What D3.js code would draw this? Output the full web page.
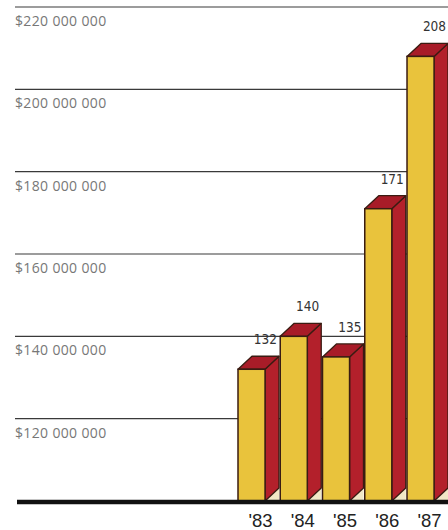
<!DOCTYPE html>
<html><head><meta charset="utf-8">
<script src="https://cdn.jsdelivr.net/npm/d3@7"></script>
<style>html,body{margin:0;padding:0;background:#fff;}</style>
</head><body>
<svg id="c" width="448" height="530"></svg>
<script>
const years = ["'83", "'84", "'85", "'86", "'87"];
const values = [132, 140, 135, 171, 208];           // millions of dollars
const valueLabels = ["132", "140", "135", "171", "208"];
const ticks = [120, 140, 160, 180, 200, 220];
const tickLabels = ["$120 000 000", "$140 000 000", "$160 000 000", "$180 000 000", "$200 000 000", "$220 000 000"];

const svg = d3.select("#c");
const y = d3.scaleLinear().domain([100, 220]).range([501, 7]);
const x = d3.scaleBand().domain(years).range([238, 448]).paddingInner(0.03).paddingOuter(0);
const bw = x.bandwidth();
const fw = bw * 0.66, dx = bw - fw, dy = 13;
const base = y(100);

// gridlines
svg.append("g").selectAll("line").data(ticks).join("line")
  .attr("x1", 15).attr("x2", 448)
  .attr("y1", d => y(d)).attr("y2", d => y(d))
  .attr("stroke", "#3a3a3a").attr("stroke-width", 1.2);

svg.append("g").selectAll("text").data(ticks).join("text")
  .attr("x", 15).attr("y", d => y(d) + 19)
  .attr("font-family", "Open Sans, sans-serif").attr("font-size", 14)
  .attr("letter-spacing", 0.35)
  .attr("fill", "#777")
  .text((d, i) => tickLabels[i]);

// bars
const g = svg.append("g").selectAll("g").data(values).join("g");
const stroke = "#3a1c12";
g.append("polygon") // cream bottom triangle
  .attr("points", (d, i) => {
    const x0 = x(years[i]) + fw;
    return [[x0, base], [x0 + dx, base - dy], [x0 + dx, base]].map(p => p.join(",")).join(" ");
  }).attr("fill", "#f1e7c6");
g.append("polygon") // side
  .attr("points", (d, i) => {
    const x0 = x(years[i]) + fw, yt = y(d);
    return [[x0, yt], [x0 + dx, yt - dy], [x0 + dx, base - dy], [x0, base]].map(p => p.join(",")).join(" ");
  }).attr("fill", "#b3202b").attr("stroke", stroke).attr("stroke-width", 1.3).attr("stroke-linejoin", "round");
g.append("polygon") // top
  .attr("points", (d, i) => {
    const x0 = x(years[i]), yt = y(d);
    return [[x0, yt], [x0 + dx, yt - dy], [x0 + fw + dx, yt - dy], [x0 + fw, yt]].map(p => p.join(",")).join(" ");
  }).attr("fill", "#a81c28").attr("stroke", stroke).attr("stroke-width", 1.3).attr("stroke-linejoin", "round");
g.append("rect") // front
  .attr("x", (d, i) => x(years[i])).attr("y", d => y(d))
  .attr("width", fw).attr("height", d => base - y(d))
  .attr("fill", "#e9c33c").attr("stroke", stroke).attr("stroke-width", 1.5);

// value labels
g.append("text")
  .attr("x", (d, i) => x(years[i]) + fw / 2 + dx)
  .attr("y", d => y(d) - dy - 12)
  .attr("text-anchor", "middle")
  .attr("font-family", "DejaVu Sans Condensed, sans-serif").attr("font-size", 13.5)
  .attr("fill", "#333")
  .text((d, i) => valueLabels[i]);

// baseline
svg.append("line").attr("x1", 17).attr("x2", 448).attr("y1", base + 1).attr("y2", base + 1)
  .attr("stroke", "#111").attr("stroke-width", 4.5);

// x labels
svg.append("g").selectAll("text").data(years).join("text")
  .attr("x", d => x(d) + bw / 2 + 2).attr("y", 527)
  .attr("text-anchor", "middle")
  .attr("font-family", "Liberation Sans, Arial, sans-serif").attr("font-size", 18.5)
  .attr("fill", "#222")
  .text(d => d);
</script>
</body></html>
